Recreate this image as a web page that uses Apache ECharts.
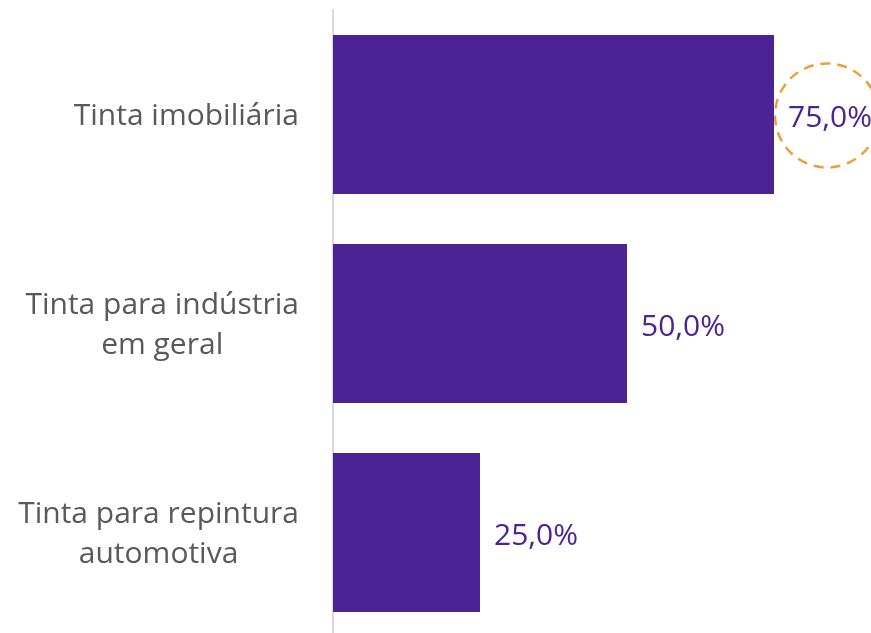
<!DOCTYPE html>
<html>
<head>
<meta charset="utf-8">
<script src="https://cdn.jsdelivr.net/npm/echarts@6/dist/echarts.min.js"></script>
<style>
  html, body { margin: 0; padding: 0; background: #ffffff; }
  #chart { width: 871px; height: 633px; }
</style>
</head>
<body>
<div id="chart"></div>
<script>
// Paint segments and their share (%)
const categories = [
  'Tinta imobiliária',
  'Tinta para indústria\nem geral',
  'Tinta para repintura\nautomotiva'
];
const shares = [75.0, 50.0, 25.0];
const highlightIndex = 0; // segment circled in the chart

const FONT = '"Open Sans", sans-serif';
const BAR = '#4b2394';

const chart = echarts.init(document.getElementById('chart'), null, { renderer: 'canvas' });

chart.setOption({
  backgroundColor: '#ffffff',
  animation: false,
  grid: {
    left: 333, top: 10, width: 588, height: 627,
    containLabel: false, outerBoundsMode: 'none'
  },
  xAxis: {
    type: 'value', min: 0, max: 100,
    show: false
  },
  yAxis: {
    type: 'category',
    data: categories,
    inverse: true,
    axisLine: { show: true, lineStyle: { color: '#d9d9d9', width: 2 } },
    axisTick: { show: false },
    splitLine: { show: false },
    axisLabel: {
      margin: 34,
      align: 'right',
      padding: [4, 0, 0, 0],
      fontFamily: FONT,
      fontSize: 30,
      color: '#595959',
      lineHeight: 40,
      formatter: v => v.split('\n').map(l => '{c|' + l + '}').join('\n'),
      rich: { c: { align: 'center', fontFamily: FONT, fontSize: 30, color: '#595959', lineHeight: 40 } }
    }
  },
  series: [{
    type: 'bar',
    data: shares,
    barCategoryGap: '24%',
    itemStyle: { color: BAR },
    label: {
      show: true,
      position: 'right',
      distance: 14,
      offset: [0, 4],
      fontFamily: FONT,
      fontSize: 30,
      color: BAR,
      formatter: p => p.value.toFixed(1).replace('.', ',') + '%'
    }
  }]
});

// Dashed ring around the highlighted value label, placed from the bar's end
const end = chart.convertToPixel({ seriesIndex: 0 }, [shares[highlightIndex], highlightIndex]);
chart.setOption({
  graphic: [{
    type: 'circle',
    shape: { cx: end[0] + 53, cy: end[1] + 1, r: 52 },
    style: { fill: 'none', stroke: '#e9a03a', lineWidth: 2.5, lineDash: [10, 7] },
    silent: true
  }]
});
</script>
</body>
</html>
